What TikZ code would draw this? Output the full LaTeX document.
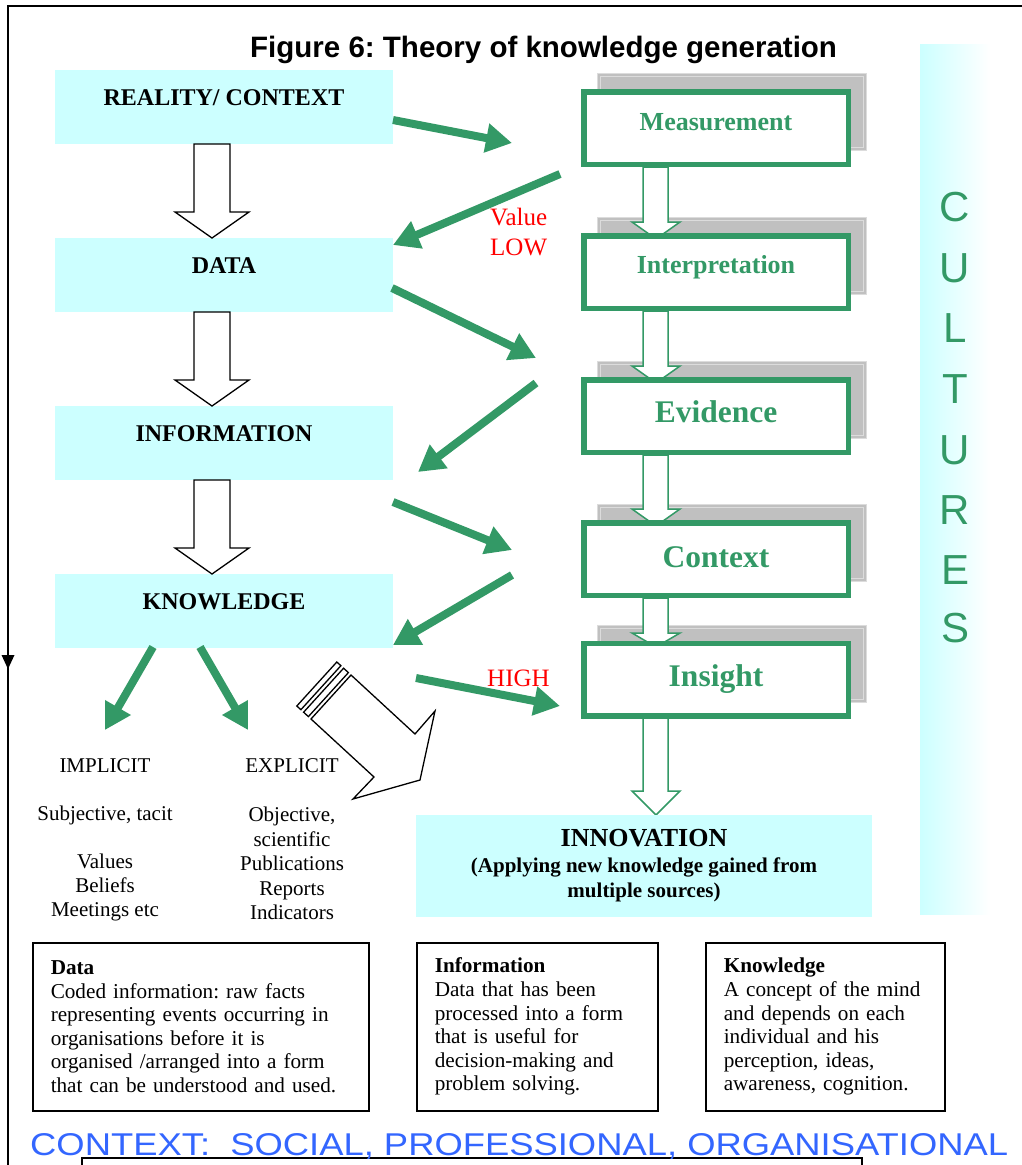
\documentclass[tikz,border=0pt]{standalone}
\usepackage{fontspec}
\usepackage{graphicx}
\setmainfont{Liberation Serif}
\newfontfamily\arialf{Liberation Sans}
\usetikzlibrary{arrows.meta,backgrounds}
\definecolor{cyanbg}{HTML}{CCFFFF}
\definecolor{kgreen}{HTML}{339966}
\definecolor{kblue}{HTML}{3366FF}
\definecolor{shgray}{HTML}{C0C0C0}
\definecolor{shlight}{HTML}{DCDCDC}
\newcommand\fsz[2]{\fontsize{#1}{#2}\selectfont}
\frenchspacing
\tikzset{
  leftbox/.style={fill=cyanbg, minimum width=338pt, minimum height=74pt, inner sep=0pt, text height=16pt, text depth=0pt, font=\fsz{24}{28}\bfseries},
  greenbox/.style={draw=kgreen, line width=5.5pt, fill=white, minimum width=264.5pt, minimum height=72.5pt, inner sep=0pt, text=kgreen, text depth=0pt},
  flowarrow/.style={kgreen, line width=8pt, -{Triangle[length=26pt,width=28pt]}},
  hollowblack/.style={draw=black, line width=1.3pt, fill=white, line join=miter},
  hollowgreen/.style={draw=kgreen, line width=1.5pt, fill=white},
  defbox/.style={draw=black, line width=1.5pt, minimum height=168pt, inner xsep=18pt, inner ysep=0pt, anchor=north west, align=left, font=\fsz{21.2}{23.6}},
  coltext/.style={align=center, font=\fsz{21}{24.4}},
  redlabel/.style={text=red, font=\fsz{25}{30}, inner sep=0pt, anchor=base west},
  cultletter/.style={text=kgreen, font=\arialf\fsz{42}{42}, inner sep=0pt},
}
\begin{document}
\begin{tikzpicture}[x=1pt,y=-1pt]
\useasboundingbox (0,0) rectangle (1021,1165);

% frame
\draw[line width=2pt] (8,1166) -- (8,5.7) -- (1022,5.7);
\fill (1.5,655) -- (14.5,655) -- (8,669) -- cycle;
\draw[line width=1.5pt] (82,1167) -- (82,1158) -- (862,1158) -- (862,1167);

% title
\node[anchor=base west, inner sep=0pt, font=\arialf\bfseries\fsz{29.5}{34}] (title) at (250,57) {Figure 6: Theory of knowledge generation};

% cultures column
\shade[left color=cyanbg, right color=white] (920,44) rectangle (990,914);
\foreach \l/\yy [count=\i] in {C/207,U/268,L/328,T/389,U/450,R/510,E/570,S/628}
  \node[cultletter] (cult\i) at (955,\yy) {\l};

% left boxes
\node[leftbox] (reality) at (224,107) {\raisebox{10pt}{REALITY/ CONTEXT}};
\node[leftbox] (data) at (224,275) {\raisebox{10pt}{DATA}};
\node[leftbox] (info) at (224,443) {\raisebox{10pt}{INFORMATION}};
\node[leftbox] (know) at (224,611) {\raisebox{10pt}{KNOWLEDGE}};

% left hollow arrows
\foreach \t in {144,312,480}
  \draw[hollowblack] (194,\t) -- (194,\t+68) -- (175,\t+68) -- (212,\t+94) -- (249,\t+68) -- (230,\t+68) -- (230,\t) -- cycle;

% right green boxes
\node[greenbox, font=\fsz{26}{30}\bfseries, text height=17pt] (meas) at (716,128) {\raisebox{6pt}{Measurement}};
\node[greenbox, font=\fsz{26}{30}\bfseries, text height=17pt] (interp) at (716,272) {\raisebox{7pt}{Interpretation}};
\node[greenbox, font=\fsz{31.5}{36}\bfseries, text height=21pt] (evid) at (716,416) {\raisebox{4pt}{Evidence}};
\node[greenbox, font=\fsz{31.5}{36}\bfseries, text height=21pt] (ctx) at (716,559) {\raisebox{2pt}{Context}};
\node[greenbox, font=\fsz{31.5}{36}\bfseries, text height=21pt] (ins) at (716,679.5) {\raisebox{3.5pt}{Insight}};

% innovation
\node[fill=cyanbg, minimum width=456pt, minimum height=102pt, inner sep=0pt, align=center, font=\fsz{21}{25.5}\bfseries] (innov) at (644,866)
  {{\fsz{26}{30}INNOVATION}\\(Applying new knowledge gained from\\multiple sources)};

\begin{pgfonlayer}{background}
  \fill[white] (0,0) rectangle (1021,1165);
  \foreach \c in {128,272,416,559,679.5} {
    \fill[shgray] (597,\c-55) rectangle (867,\c+23);
    \draw[shlight, line width=1pt] (597.5,\c-54.5) rectangle (866.5,\c+22.5);
    \draw[shlight, line width=1pt] (600.5,\c-51.5) rectangle (863.5,\c+19.5);
  }
  \foreach \t/\b/\p in {167/222/239, 311/366/383, 455/509/526, 598/633/647, 718/791/815}
    \draw[hollowgreen] (643,\t) -- (643,\b) -- (632,\b) -- (656,\p) -- (680,\b) -- (668,\b) -- (668,\t) -- cycle;
\end{pgfonlayer}

% green flow arrows
\coordinate (a1s) at (393,120); \coordinate (a1e) at (512,143);
\coordinate (a2s) at (560,174); \coordinate (a2e) at (393,245);
\coordinate (a3s) at (392,288); \coordinate (a3e) at (536,358);
\coordinate (a4s) at (536,383); \coordinate (a4e) at (418,472);
\coordinate (a5s) at (393,502); \coordinate (a5e) at (512,550);
\coordinate (a6s) at (512,575); \coordinate (a6e) at (393,645);
\coordinate (a7s) at (416,678); \coordinate (a7e) at (560,706);
\coordinate (a8s) at (153,647); \coordinate (a8e) at (105,730);
\coordinate (a9s) at (200,647); \coordinate (a9e) at (248,730);
\foreach \k in {1,...,9}
  \draw[flowarrow] (a\k s) -- (a\k e);

% red labels
\node[redlabel] (value) at (490,225) {Value};
\node[redlabel] (low) at (490,255) {LOW};
\node[redlabel] (high) at (487,686) {HIGH};

% big striped hollow arrow
\draw[hollowblack] (351,675) -- (415,734) -- (435,711) -- (420,780) -- (353,799) -- (374,777) -- (311,719) -- cycle;
\draw[hollowblack] (308.4,716.6) -- (348.4,672.6) -- (343.6,668.2) -- (303.6,712.2) -- cycle;
\draw[hollowblack] (300.9,709.7) -- (340.9,665.7) -- (336.8,662.0) -- (296.8,706.0) -- cycle;

% implicit / explicit columns
\node[coltext] (impl) at (105,766) {IMPLICIT};
\node[coltext] (impl1) at (105,815) {Subjective, tacit};
\node[coltext] (impl2) at (105,887.5) {Values\\Beliefs\\Meetings etc};
\node[coltext] (expl) at (292,766) {EXPLICIT};
\node[coltext] (expl1) at (292,863.5) {Objective,\\scientific\\Publications\\Reports\\Indicators};

% definition boxes
\node[defbox, text width=300pt] (ddata) at (32,942) {\textbf{Data}\\Coded information: raw facts\\representing events occurring in\\organisations before it is\\organised /arranged into a form\\that can be understood and used.};
\node[defbox, text width=205pt] (dinfo) at (416,942) {\textbf{Information}\\Data that has been\\processed into a form\\that is useful for\\decision-making and\\problem solving.};
\node[defbox, text width=203pt] (dknow) at (705,942) {\textbf{Knowledge}\\A concept of the mind\\and depends on each\\individual and his\\perception, ideas,\\awareness, cognition.};

% bottom context text
\node[anchor=base west, inner sep=0pt, text=kblue, font=\arialf\fsz{31.5}{36}] (ctxtext) at (30,1155) {\scalebox{1.155}[1]{CONTEXT:\ \ SOCIAL, PROFESSIONAL, ORGANISATIONAL}};
\end{tikzpicture}
\end{document}
